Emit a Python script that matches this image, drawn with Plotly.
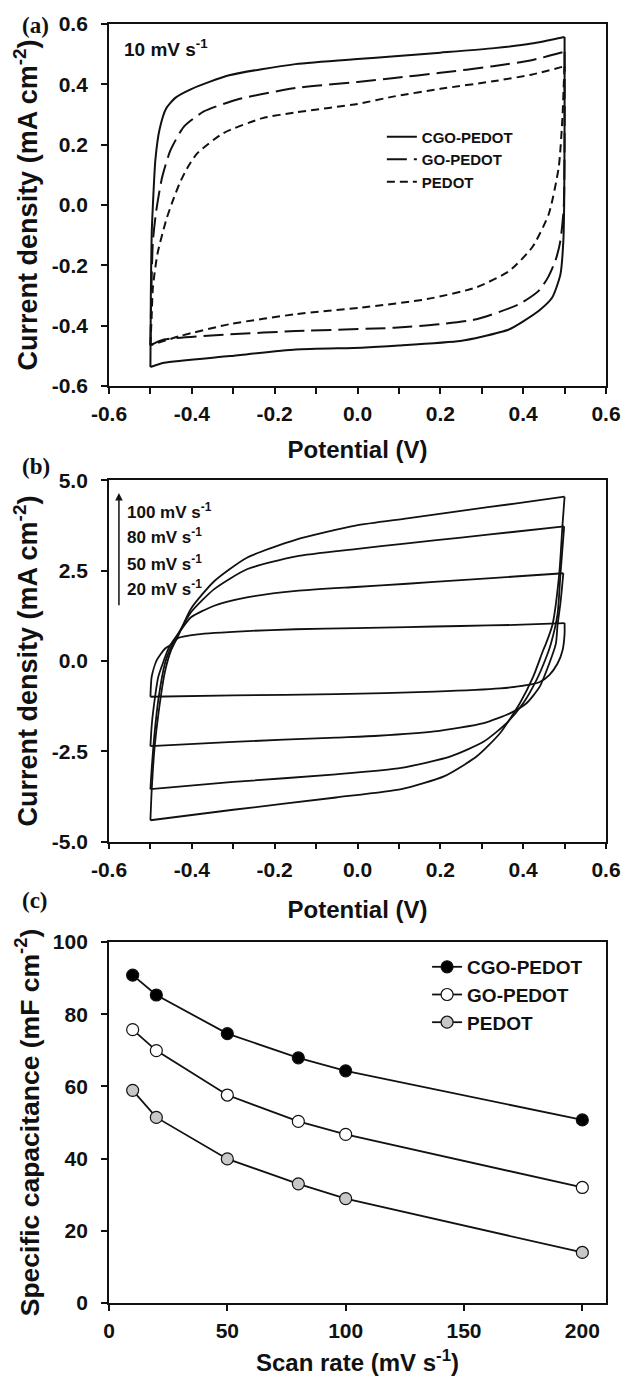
import plotly.graph_objects as go

# ---------------- Panel (a): CV at 10 mV/s (anodic "up" and cathodic "dn" branches) ----------------
a_cgo_up_v = [-0.5, -0.499, -0.497, -0.494, -0.488, -0.478, -0.462, -0.44, -0.4, -0.31, -0.15, 0.0, 0.09, 0.2, 0.33, 0.42, 0.5]
a_cgo_up_j = [-0.537, -0.3, -0.1, 0.0, 0.15, 0.25, 0.32, 0.355, 0.385, 0.43, 0.467, 0.484, 0.493, 0.505, 0.52, 0.535, 0.557]
a_cgo_dn_v = [0.5, 0.5, 0.499, 0.497, 0.49, 0.47, 0.438, 0.4, 0.367, 0.3, 0.248, 0.1, 0.01, -0.149, -0.308, -0.467, -0.5]
a_cgo_dn_j = [0.557, 0.3, 0.0, -0.12, -0.23, -0.307, -0.351, -0.386, -0.412, -0.437, -0.451, -0.466, -0.473, -0.479, -0.501, -0.523, -0.537]

a_go_up_v = [-0.5, -0.498, -0.494, -0.486, -0.472, -0.452, -0.419, -0.371, -0.292, -0.149, 0.0, 0.089, 0.2, 0.327, 0.42, 0.5]
a_go_up_j = [-0.465, -0.3, -0.12, -0.02, 0.09, 0.18, 0.26, 0.31, 0.349, 0.388, 0.408, 0.421, 0.438, 0.46, 0.48, 0.508]
a_go_dn_v = [0.5, 0.5, 0.498, 0.49, 0.478, 0.46, 0.438, 0.39, 0.287, 0.2, 0.089, -0.149, -0.308, -0.467, -0.5]
a_go_dn_j = [0.508, 0.2, -0.007, -0.118, -0.184, -0.24, -0.284, -0.329, -0.379, -0.395, -0.407, -0.418, -0.429, -0.446, -0.465]

a_pedot_up_v = [-0.5, -0.497, -0.494, -0.483, -0.462, -0.447, -0.43, -0.412, -0.387, -0.324, -0.229, -0.149, 0.0, 0.089, 0.2, 0.327, 0.42, 0.5]
a_pedot_up_j = [-0.465, -0.37, -0.273, -0.162, -0.05, 0.01, 0.07, 0.12, 0.171, 0.238, 0.288, 0.307, 0.335, 0.36, 0.385, 0.41, 0.432, 0.46]
a_pedot_dn_v = [0.5, 0.498, 0.495, 0.486, 0.462, 0.422, 0.367, 0.287, 0.168, 0.01, -0.149, -0.308, -0.427, -0.5]
a_pedot_dn_j = [0.46, 0.4, 0.293, 0.127, -0.029, -0.14, -0.218, -0.273, -0.312, -0.34, -0.362, -0.395, -0.434, -0.465]

a_names = ["CGO-PEDOT", "GO-PEDOT", "PEDOT"]

# ---------------- Panel (b): CGO-PEDOT at 20/50/80/100 mV/s ----------------
b_20_up_v = [-0.5, -0.497, -0.485, -0.465, -0.446, -0.433, -0.386, -0.267, -0.15, -0.005, 0.12, 0.25, 0.38, 0.5]
b_20_up_j = [-0.99, -0.44, 0.02, 0.34, 0.48, 0.64, 0.74, 0.83, 0.88, 0.91, 0.94, 0.97, 1.0, 1.05]
b_20_dn_v = [0.5, 0.5, 0.495, 0.483, 0.463, 0.44, 0.408, 0.344, 0.186, -0.052, -0.3, -0.5]
b_20_dn_j = [1.05, 0.75, 0.29, -0.07, -0.39, -0.58, -0.67, -0.76, -0.85, -0.92, -0.95, -0.99]

b_50_up_v = [-0.5, -0.497, -0.493, -0.481, -0.468, -0.455, -0.43, -0.402, -0.346, -0.267, -0.148, -0.005, 0.12, 0.25, 0.38, 0.497]
b_50_up_j = [-2.36, -1.8, -1.36, -0.44, 0.0, 0.38, 0.8, 1.21, 1.53, 1.76, 1.94, 2.05, 2.14, 2.24, 2.34, 2.43]
b_50_dn_v = [0.497, 0.49, 0.483, 0.479, 0.463, 0.44, 0.408, 0.368, 0.305, 0.186, 0.05, -0.052, -0.3, -0.5]
b_50_dn_j = [2.43, 1.6, 1.0, 0.48, -0.07, -0.71, -1.17, -1.45, -1.72, -1.95, -2.07, -2.12, -2.24, -2.36]

b_80_up_v = [-0.5, -0.497, -0.49, -0.48, -0.465, -0.454, -0.433, -0.402, -0.346, -0.267, -0.148, -0.005, 0.12, 0.25, 0.38, 0.499]
b_80_up_j = [-3.55, -3.0, -2.0, -1.0, -0.07, 0.29, 0.75, 1.35, 1.99, 2.54, 2.9, 3.1, 3.26, 3.42, 3.58, 3.73]
b_80_dn_v = [0.499, 0.49, 0.483, 0.467, 0.456, 0.432, 0.4, 0.36, 0.305, 0.225, 0.106, -0.052, -0.3, -0.5]
b_80_dn_j = [3.73, 2.4, 1.3, 0.48, 0.11, -0.53, -1.17, -1.72, -2.23, -2.64, -2.96, -3.14, -3.35, -3.55]

b_100_up_v = [-0.5, -0.497, -0.49, -0.48, -0.465, -0.45, -0.433, -0.402, -0.346, -0.267, -0.148, -0.005, 0.12, 0.25, 0.38, 0.5]
b_100_up_j = [-4.41, -3.6, -2.4, -1.4, -0.3, 0.3, 0.7, 1.45, 2.21, 2.86, 3.36, 3.75, 3.95, 4.16, 4.36, 4.55]
b_100_dn_v = [0.5, 0.495, 0.487, 0.471, 0.455, 0.448, 0.424, 0.392, 0.344, 0.288, 0.21, 0.106, -0.052, -0.3, -0.5]
b_100_dn_j = [4.55, 3.77, 2.4, 1.02, 0.48, 0.29, -0.44, -1.17, -2.0, -2.64, -3.19, -3.55, -3.78, -4.12, -4.41]

b_names = ["20 mV/s", "50 mV/s", "80 mV/s", "100 mV/s"]
b_labels = ["100 mV s<sup>-1</sup>", "80 mV s<sup>-1</sup>", "50 mV s<sup>-1</sup>", "20 mV s<sup>-1</sup>"]

# ---------------- Panel (c): specific capacitance vs scan rate ----------------
c_scan = [10, 20, 50, 80, 100, 200]
c_cgo = [90.8, 85.3, 74.6, 67.9, 64.3, 50.7]
c_go = [75.7, 69.9, 57.6, 50.3, 46.7, 32.0]
c_pedot = [58.9, 51.4, 39.9, 33.0, 28.9, 14.0]

# tick labels
a_ytick_vals = [-0.6, -0.4, -0.2, 0.0, 0.2, 0.4, 0.6]
a_ytick_text = ["-0.6", "-0.4", "-0.2", "0.0", "0.2", "0.4", "0.6"]
v_xtick_vals = [-0.6, -0.4, -0.2, 0.0, 0.2, 0.4, 0.6]
v_xtick_text = ["-0.6", "-0.4", "-0.2", "0.0", "0.2", "0.4", "0.6"]
b_ytick_vals = [-5.0, -2.5, 0.0, 2.5, 5.0]
b_ytick_text = ["-5.0", "-2.5", "0.0", "2.5", "5.0"]
c_xtick_vals = [0, 50, 100, 150, 200]
c_ytick_vals = [0, 20, 40, 60, 80, 100]

SANS = "Liberation Sans"
SERIF = "Liberation Serif"
INK = "#111111"

fig = go.Figure()

# Panel (a) traces
a_styles = ["solid", "20px,7px", "8px,5px"]
a_branches = [(a_cgo_up_v, a_cgo_up_j, a_cgo_dn_v, a_cgo_dn_j),
              (a_go_up_v, a_go_up_j, a_go_dn_v, a_go_dn_j),
              (a_pedot_up_v, a_pedot_up_j, a_pedot_dn_v, a_pedot_dn_j)]
for (uv, uj, dv, dj), name, dash in zip(a_branches, a_names, a_styles):
    for k, (v, j) in enumerate([(uv, uj), (dv, dj)]):
        fig.add_trace(go.Scatter(x=v, y=j, mode="lines", name=name, xaxis="x", yaxis="y",
                                 legendgroup=name, showlegend=(k == 0), legend="legend",
                                 line=dict(color=INK, width=2, dash=dash, shape="spline", smoothing=0.6)))

# Panel (b) traces
b_branches = [(b_20_up_v, b_20_up_j, b_20_dn_v, b_20_dn_j),
              (b_50_up_v, b_50_up_j, b_50_dn_v, b_50_dn_j),
              (b_80_up_v, b_80_up_j, b_80_dn_v, b_80_dn_j),
              (b_100_up_v, b_100_up_j, b_100_dn_v, b_100_dn_j)]
for (uv, uj, dv, dj), name in zip(b_branches, b_names):
    for v, j in [(uv, uj), (dv, dj)]:
        fig.add_trace(go.Scatter(x=v, y=j, mode="lines", name=name, xaxis="x2", yaxis="y2", showlegend=False,
                                 line=dict(color=INK, width=1.8, shape="spline", smoothing=0.6)))

# Panel (c) traces
c_fills = ["#000000", "#ffffff", "#c8c8c8"]
for y, name, fill in zip([c_cgo, c_go, c_pedot], a_names, c_fills):
    fig.add_trace(go.Scatter(x=c_scan, y=y, mode="lines+markers", name=name, xaxis="x3", yaxis="y3",
                             line=dict(color=INK, width=1.8),
                             marker=dict(size=12, color=fill, line=dict(color=INK, width=1.2)),
                             legend="legend2"))

tickfont = dict(family=SANS, size=21, color=INK, weight="bold")


def xax(anchor, rng, vals, text, title, standoff, minor=None):
    d = dict(range=rng, tickvals=vals, ticktext=text, ticks="outside", ticklen=6, tickwidth=1.5,
             tickcolor=INK, showline=True, linecolor=INK, linewidth=1.8, mirror=True,
             showgrid=False, zeroline=False, tickfont=tickfont, anchor=anchor,
             title=dict(text=title, font=dict(family=SANS, size=24, color=INK), standoff=standoff),
             ticklabelstandoff=2)
    if minor:
        d["minor"] = dict(dtick=minor, ticks="outside", ticklen=6, tickwidth=1.5, tickcolor=INK, showgrid=False)
    return d


def yax(domain, anchor, rng, vals, text, title, tsize):
    return dict(domain=domain, range=rng, tickvals=vals, ticktext=text, ticks="outside", ticklen=6,
                tickwidth=1.5, tickcolor=INK, showline=True, linecolor=INK, linewidth=1.8, mirror=True,
                showgrid=False, zeroline=False, tickfont=tickfont, anchor=anchor,
                title=dict(text=title, font=dict(family=SANS, size=tsize, color=INK), standoff=6),
                ticklabelstandoff=9)


yt_a = "<b>Current density (mA cm<sup>-2</sup>)</b>"
yt_c = "<b>Specific capacitance (mF cm<sup>-2</sup>)</b>"
xt_v = "<b>Potential (V)</b>"
xt_c = "<b>Scan rate (mV s<sup>-1</sup>)</b>"

fig.update_layout(
    width=633, height=1387,
    margin=dict(l=109, r=18, t=17, b=84),
    paper_bgcolor="white", plot_bgcolor="white",
    xaxis=xax("y", [-0.6, 0.6], v_xtick_vals, v_xtick_text, xt_v, 17, minor=0.1),
    yaxis=yax([0.717, 1.0], "x", [-0.6, 0.6], a_ytick_vals, a_ytick_text, yt_a, 27),
    xaxis2=xax("y2", [-0.6, 0.6], v_xtick_vals, v_xtick_text, xt_v, 22, minor=0.1),
    yaxis2=yax([0.3608, 0.6431], "x2", [-5, 5], b_ytick_vals, b_ytick_text, yt_a, 27),
    xaxis3=xax("y3", [0, 210], c_xtick_vals, [str(v) for v in c_xtick_vals], xt_c, 13),
    yaxis3=yax([0.0, 0.2823], "x3", [0, 100], c_ytick_vals, [str(v) for v in c_ytick_vals], yt_c, 26.5),
    legend=dict(x=0.549, y=0.9246, xanchor="left", yanchor="top", bgcolor="rgba(0,0,0,0)",
                font=dict(family=SANS, size=15, color=INK, weight="bold"), tracegroupgap=0),
    legend2=dict(x=0.64, y=0.2776, xanchor="left", yanchor="top", bgcolor="rgba(0,0,0,0)",
                 font=dict(family=SANS, size=19, color=INK, weight="bold"), tracegroupgap=0),
    showlegend=True,
)

ann = []
# panel letters
for txt, yp in [("(a)", 0.9985), ("(b)", 0.654), ("(c)", 0.315)]:
    ann.append(dict(text="<b>" + txt + "</b>", xref="paper", yref="paper", x=-0.18, y=yp,
                    xanchor="left", yanchor="middle", showarrow=False,
                    font=dict(family=SERIF, size=23, color=INK)))
# 10 mV s-1
ann.append(dict(text="<b>10 mV s<sup>-1</sup></b>", xref="x domain", yref="y domain", x=0.026, y=0.935,
                xanchor="left", yanchor="middle", showarrow=False,
                font=dict(family=SANS, size=19, color=INK)))
# scan rate labels in (b)
for lbl, yd in zip(b_labels, [0.915, 0.847, 0.772, 0.703]):
    ann.append(dict(text="<b>" + lbl + "</b>", xref="x2 domain", yref="y2 domain", x=0.033, y=yd,
                    xanchor="left", yanchor="middle", showarrow=False,
                    font=dict(family=SANS, size=17, color=INK)))
# arrow in (b)
ann.append(dict(text="", xref="x2 domain", yref="y2 domain", x=0.02, y=0.965, ax=0.02, ay=0.65,
                axref="x2 domain", ayref="y2 domain", showarrow=True, arrowhead=2, arrowsize=1,
                arrowwidth=1.5, arrowcolor=INK))
fig.update_layout(annotations=ann)

fig.write_html("out.html")
